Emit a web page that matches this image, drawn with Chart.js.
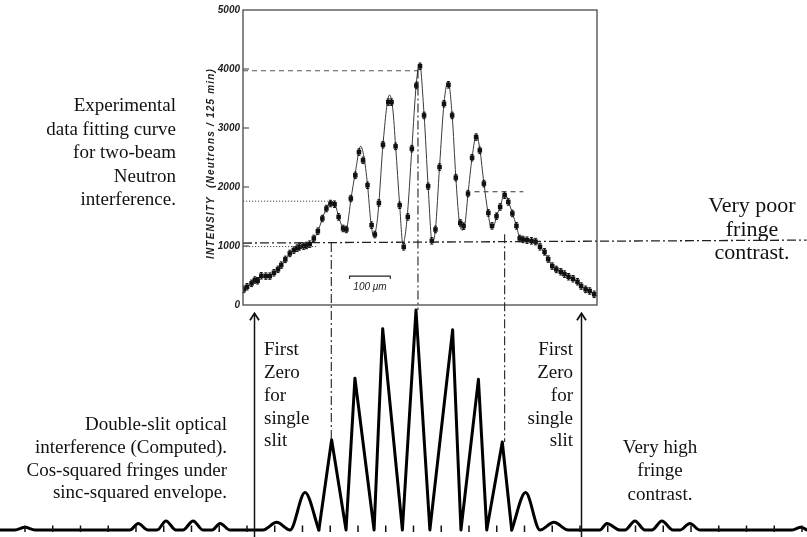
<!DOCTYPE html>
<html>
<head>
<meta charset="utf-8">
<title>Neutron two-beam interference vs. double-slit optical fringes</title>
<script src="https://cdn.jsdelivr.net/npm/chart.js@4.4.1/dist/chart.umd.min.js"></script>
<style>
  html, body { margin: 0; padding: 0; background: #fff; }
  #wrap { position: relative; width: 807px; height: 537px; overflow: hidden; background: #fff; }
  #wrap canvas { position: absolute; left: 0; top: 0; }
  .note {
    position: absolute;
    font-family: 'Liberation Serif', 'Times New Roman', serif;
    font-size: 19px;
    line-height: 23px;
    color: #111;
    white-space: nowrap;
  }
</style>
</head>
<body>
<div id="wrap">
  <canvas id="computed" width="807" height="537"></canvas>
  <canvas id="measured" width="807" height="537"></canvas>

  <div class="note" style="right:631px; top:93px; text-align:right; line-height:23.5px;">Experimental<br>data fitting curve<br>for two-beam<br>Neutron<br>interference.</div>
  <div class="note" style="left:687px; width:130px; top:193px; text-align:center; font-size:22px; line-height:23.5px;">Very poor<br>fringe<br>contrast.</div>
  <div class="note" style="left:264px; top:338px; text-align:left; line-height:22.85px;">First<br>Zero<br>for<br>single<br>slit</div>
  <div class="note" style="right:234px; top:338px; text-align:right; line-height:22.85px;">First<br>Zero<br>for<br>single<br>slit</div>
  <div class="note" style="right:580px; top:413px; text-align:right; line-height:22.8px;">Double-slit optical<br>interference (Computed).<br>Cos-squared fringes under<br>sinc-squared envelope.</div>
  <div class="note" style="left:600px; width:120px; top:435px; text-align:center; line-height:23.3px;">Very high<br>fringe<br>contrast.</div>
</div>

<script>
// ---------- Measured neutron counts: slit-scan position (µm) and neutrons / 125 min ----------
const measuredX = [-428,-420,-409,-401,-394,-385,-374,-364,-354,-344,-336,-326,-315,-305,-297,
  -291,-281,-274,-266,-256,-246,-235,-225,-215,-205,-195,-184,-176,-165,-154,-145,-135,-124,-114,
  -106,-96,-86,-73,-65,-55,-45,-35,-25,-15,-4,5,15,25,34,43,53,64,75,84,93,104,112,123,133,143,
  152,162,173,182,193,202,213,222,232,242,250,258,268,279,289,300,311,320,330,340,351,360,370,
  381,392,401,412,422,433];
const measuredY = [265,309,367,423,411,495,490,490,546,604,676,773,874,930,964,
  986,998,1009,1031,1128,1251,1466,1635,1720,1708,1493,1297,1280,1804,2198,2592,2452,2029,1353,
  1195,1730,2717,3438,3438,2689,1691,986,1493,2650,3720,4046,3213,2012,1087,1280,2338,3411,3732,3213,2159,1392,1336,1889,2497,2846,
  2621,2058,1561,1341,1505,1662,1860,1747,1551,1341,1128,1111,1099,1087,1074,986,901,778,659,
  603,563,524,479,445,394,321,265,237,181];
const countError = 55;   // half-height of the error bars, counts

// ---------- Fitted curve through the measurements ----------
const fitX = [-430,-420,-409,-400,-390,-380,-368,-356,-344,-336,-326,-315,-305,-295,-283,-272,
  -264,-256,-246,-235,-225,-212,-203,-195,-186,-180,-174,-165,-154,-141,-133,-124,-116,-109,-101,
  -96,-86,-70,-62,-55,-45,-37,-27,-15,-4,4,15,25,35,43,53,64,74,84,93,101,108,115,123,133,144,
  152,162,172,180,187,193,202,213,222,232,242,250,258,268,279,289,300,310,320,330,340,350,360,
  370,381,392,401,412,422,433,440];
const fitY = [240,305,365,415,455,485,495,535,600,670,770,870,930,970,995,1012,
  1035,1110,1250,1460,1640,1750,1690,1500,1320,1265,1330,1780,2240,2690,2520,2040,1420,1170,1380,
  1730,2720,3560,3330,2700,1700,1040,1450,2650,3760,4090,3230,2010,1060,1290,2340,3420,3790,3220,2170,1450,1270,1350,1880,2500,2890,
  2640,2070,1570,1310,1350,1500,1660,1900,1760,1560,1340,1140,1110,1100,1088,1070,985,900,785,660,605,563,524,
  480,445,394,325,268,235,180,160];

// ---------- Axis of the measured panel ----------
const posRange = [-430, 440];          // µm
const yTicks = [0, 1000, 2000, 3000, 4000, 5000];
const yTitle = 'INTENSITY  (Neutrons / 125 min)';

// Guide lines drawn on the measured panel (data units)
const centralPeakLevel = 3970;         // dashed level of the central maximum
const firstSidePeakLevel = 1760;       // dotted level of the outer left maximum
const shoulderLevel = 990;             // dotted level of the left shoulder
const rightSidePeak = {from: 139, to: 259, level: 1920};
const contrastLine = {x0: -430, y0: 1050, x1: 955, y1: 1100};
const guideColumns = [                  // vertical guides: measured start -> computed fringe
  {x: -213, fromCounts: 1050, toFringe: 0.41},
  {x: 0,    fromCounts: 3990, toFringe: 1.0},
  {x: 213,  fromCounts: 1200, toFringe: 0.40}
];
const scaleBar = {start: -168, length: 100, level: 490, labelLevel: 305, label: '100 \u03bcm'};

// ---------- Computed double-slit pattern (fringe order, relative intensity) ----------
const lobeLeftX  = [-14.9,-14.36,-14.0,-13.64,-10.22,-9.92,-9.57,-9.24,-8.92,-8.56,-8.31,-7.94,
  -7.59,-7.26,-6.97,-6.61,-5.42,-4.93,-4.45,-3.91,-3.41];
const lobeLeftY  = [0,0,0.012,0,0,0.03,0,0,0.041,0,0,0.041,0,0,0.03,0,0,0.035,0,0.17,0];
const fringeX    = [-3.41,-2.95,-2.43,-2.11,-1.42,-1.11,-0.40,0.09,0.59,1.41,1.71,2.34,2.64,3.20,3.54];
const fringeY    = [0,0.41,0,0.69,0,0.915,0,1.0,0,0.91,0,0.685,0,0.40,0];
const lobeRightX = [3.54,4.04,4.56,5.06,5.57,6.72,6.97,7.44,7.62,7.98,8.34,8.59,8.95,9.35,9.60,
  9.96,10.32,13.64,13.96,14.18];
const lobeRightY = [0,0.17,0,0.035,0,0,0.03,0,0,0.041,0,0,0.041,0,0,0.03,0,0,0.012,0];
const orderRange = [-14.9, 14.18];
const fringeOrders = [-14,-13,-12,-11,-10,-9,-8,-7,-6,-5,-4,-3,-2,-1,0,1,2,3,4,5,6,7,8,9,10,11,12,13,14];
const singleSlitZeros = [-5.75, 6.04];
const arrowSpan = [-0.032, 0.985];

const toPoints = (xs, ys) => xs.map((x, i) => ({x, y: ys[i]}));
const dashDot = [9, 3, 2, 3];

// ---------- Computed pattern: baseline ticks and single-slit arrows ----------
const computedDecor = {
  id: 'computedDecor',
  afterDatasetsDraw(chart) {
    const {ctx, scales: {x, y}} = chart;
    const yb = y.getPixelForValue(0);
    ctx.save();
    ctx.strokeStyle = '#111';
    ctx.lineWidth = 1.5;
    fringeOrders.forEach(k => {
      const px = x.getPixelForValue(k);
      ctx.beginPath(); ctx.moveTo(px, yb - 4.5); ctx.lineTo(px, yb + 2); ctx.stroke();
    });
    singleSlitZeros.forEach(u => {
      const px = Math.round(x.getPixelForValue(u)) + 0.5;
      const top = y.getPixelForValue(arrowSpan[1]);
      const bot = y.getPixelForValue(arrowSpan[0]);
      ctx.lineWidth = 1.5;
      ctx.beginPath(); ctx.moveTo(px, bot); ctx.lineTo(px, top); ctx.stroke();
      ctx.lineWidth = 1.8;
      ctx.beginPath();
      ctx.moveTo(px - 4.5, top + 7); ctx.lineTo(px, top); ctx.lineTo(px + 4.5, top + 7);
      ctx.stroke();
    });
    ctx.restore();
  }
};

const lineStyle = {showLine: true, borderColor: '#000', borderWidth: 3, pointRadius: 0,
  borderJoinStyle: 'round', borderCapStyle: 'round', clip: false};

const computedChart = new Chart(document.getElementById('computed'), {
  type: 'scatter',
  data: {
    datasets: [
      Object.assign({data: toPoints(lobeLeftX, lobeLeftY), cubicInterpolationMode: 'monotone'}, lineStyle),
      Object.assign({data: toPoints(fringeX, fringeY), tension: 0}, lineStyle),
      Object.assign({data: toPoints(lobeRightX, lobeRightY), cubicInterpolationMode: 'monotone'}, lineStyle)
    ]
  },
  options: {
    responsive: false, animation: false, devicePixelRatio: 1, events: [],
    layout: {padding: {left: 0, right: 0, top: 310, bottom: 7}},
    plugins: {legend: {display: false}, tooltip: {enabled: false}},
    scales: {
      x: {type: 'linear', display: false, min: orderRange[0], max: orderRange[1]},
      y: {display: false, min: 0, max: 1}
    }
  },
  plugins: [computedDecor]
});

// ---------- Measured panel: frame, inner ticks, guide lines, scale bar ----------
function segment(ctx, x0, y0, x1, y1, dash, width, color) {
  ctx.save();
  ctx.setLineDash(dash);
  ctx.lineWidth = width;
  ctx.strokeStyle = color;
  ctx.beginPath(); ctx.moveTo(x0, y0); ctx.lineTo(x1, y1); ctx.stroke();
  ctx.restore();
}

const measuredDecor = {
  id: 'measuredDecor',
  beforeDraw(chart) {
    const s = chart.scales.y;
    if (!s._spacedTitle) {
      const orig = s.drawTitle.bind(s);
      s.drawTitle = function () {
        const c = chart.ctx;
        c.save();
        c.letterSpacing = '1.2px';
        c.translate(0, 6);
        orig();
        c.restore();
      };
      s._spacedTitle = true;
    }
  },
  afterDatasetsDraw(chart) {
    const {ctx, scales: {x, y}} = chart;
    const err = Math.abs(y.getPixelForValue(countError) - y.getPixelForValue(0));
    ctx.save();
    ctx.strokeStyle = '#111';
    ctx.lineWidth = 1;
    measuredX.forEach((mx, i) => {
      const px = x.getPixelForValue(mx), py = y.getPixelForValue(measuredY[i]);
      ctx.beginPath();
      ctx.moveTo(px, py - err); ctx.lineTo(px, py + err);
      ctx.moveTo(px - 1.5, py - err); ctx.lineTo(px + 1.5, py - err);
      ctx.moveTo(px - 1.5, py + err); ctx.lineTo(px + 1.5, py + err);
      ctx.stroke();
    });
    ctx.restore();
  },
  afterDraw(chart) {
    const {ctx, chartArea: a, scales: {x, y}} = chart;
    const lo = computedChart.scales.y;
    ctx.save();
    // frame
    ctx.strokeStyle = '#555';
    ctx.lineWidth = 1.4;
    ctx.strokeRect(a.left, a.top, a.right - a.left, a.bottom - a.top);
    // inward ticks
    ctx.lineWidth = 1.2;
    yTicks.slice(1, -1).forEach(v => {
      const py = y.getPixelForValue(v);
      ctx.beginPath(); ctx.moveTo(a.left, py); ctx.lineTo(a.left + 6, py); ctx.stroke();
    });
    ctx.restore();

    const xl = x.getPixelForValue(posRange[0]);
    segment(ctx, xl, y.getPixelForValue(centralPeakLevel), x.getPixelForValue(0), y.getPixelForValue(centralPeakLevel), [5, 4], 1.2, '#555');
    segment(ctx, xl, y.getPixelForValue(firstSidePeakLevel), x.getPixelForValue(-222), y.getPixelForValue(firstSidePeakLevel), [1.2, 1.8], 1, '#444');
    segment(ctx, xl, y.getPixelForValue(shoulderLevel), x.getPixelForValue(-246), y.getPixelForValue(shoulderLevel), [1.2, 1.8], 1, '#444');
    segment(ctx, x.getPixelForValue(rightSidePeak.from), y.getPixelForValue(rightSidePeak.level),
      x.getPixelForValue(rightSidePeak.to), y.getPixelForValue(rightSidePeak.level), [5, 4], 1.1, '#333');
    segment(ctx, x.getPixelForValue(contrastLine.x0), y.getPixelForValue(contrastLine.y0),
      x.getPixelForValue(contrastLine.x1), y.getPixelForValue(contrastLine.y1), dashDot, 1.3, '#222');
    guideColumns.forEach(g => {
      const px = x.getPixelForValue(g.x);
      segment(ctx, px, y.getPixelForValue(g.fromCounts), px, lo.getPixelForValue(g.toFringe), dashDot, 1.1, '#222');
    });

    // 100 µm scale bar
    const b0 = x.getPixelForValue(scaleBar.start), b1 = x.getPixelForValue(scaleBar.start + scaleBar.length);
    const by = y.getPixelForValue(scaleBar.level);
    ctx.save();
    ctx.strokeStyle = '#222';
    ctx.lineWidth = 1.1;
    ctx.beginPath();
    ctx.moveTo(b0, by + 3); ctx.lineTo(b0, by); ctx.lineTo(b1, by); ctx.lineTo(b1, by + 3);
    ctx.stroke();
    ctx.fillStyle = '#222';
    ctx.font = 'italic 10px "Liberation Sans", Arial, sans-serif';
    ctx.textAlign = 'center';
    ctx.textBaseline = 'middle';
    ctx.fillText(scaleBar.label, (b0 + b1) / 2, y.getPixelForValue(scaleBar.labelLevel));
    ctx.restore();
  }
};

const axisFont = {family: "'Liberation Sans', Arial, sans-serif", size: 10, style: 'italic', weight: 'bold'};

const measuredChart = new Chart(document.getElementById('measured'), {
  type: 'scatter',
  data: {
    datasets: [
      {data: toPoints(measuredX, measuredY), showLine: false, pointStyle: 'rect', pointRadius: 3.2,
        backgroundColor: '#111', borderColor: '#111', borderWidth: 0, order: 1},
      {data: toPoints(fitX, fitY), showLine: true, borderColor: '#3a3a3a', borderWidth: 1,
        pointRadius: 0, cubicInterpolationMode: 'monotone', order: 2}
    ]
  },
  options: {
    responsive: false, animation: false, devicePixelRatio: 1, events: [],
    layout: {padding: {left: 198, right: 210, top: 10, bottom: 232}},
    plugins: {legend: {display: false}, tooltip: {enabled: false}},
    scales: {
      x: {type: 'linear', display: false, min: posRange[0], max: posRange[1]},
      y: {
        min: yTicks[0], max: yTicks[yTicks.length - 1],
        afterBuildTicks: s => { s.ticks = yTicks.map(v => ({value: v})); },
        afterFit: s => { s.width = 45; },
        grid: {display: false, drawTicks: false},
        border: {display: false},
        ticks: {padding: 3, color: '#222', font: axisFont, callback: v => String(v)},
        title: {display: true, text: yTitle, color: '#222', padding: {top: 7, bottom: 0}, font: axisFont}
      }
    }
  },
  plugins: [measuredDecor]
});
</script>
</body>
</html>
